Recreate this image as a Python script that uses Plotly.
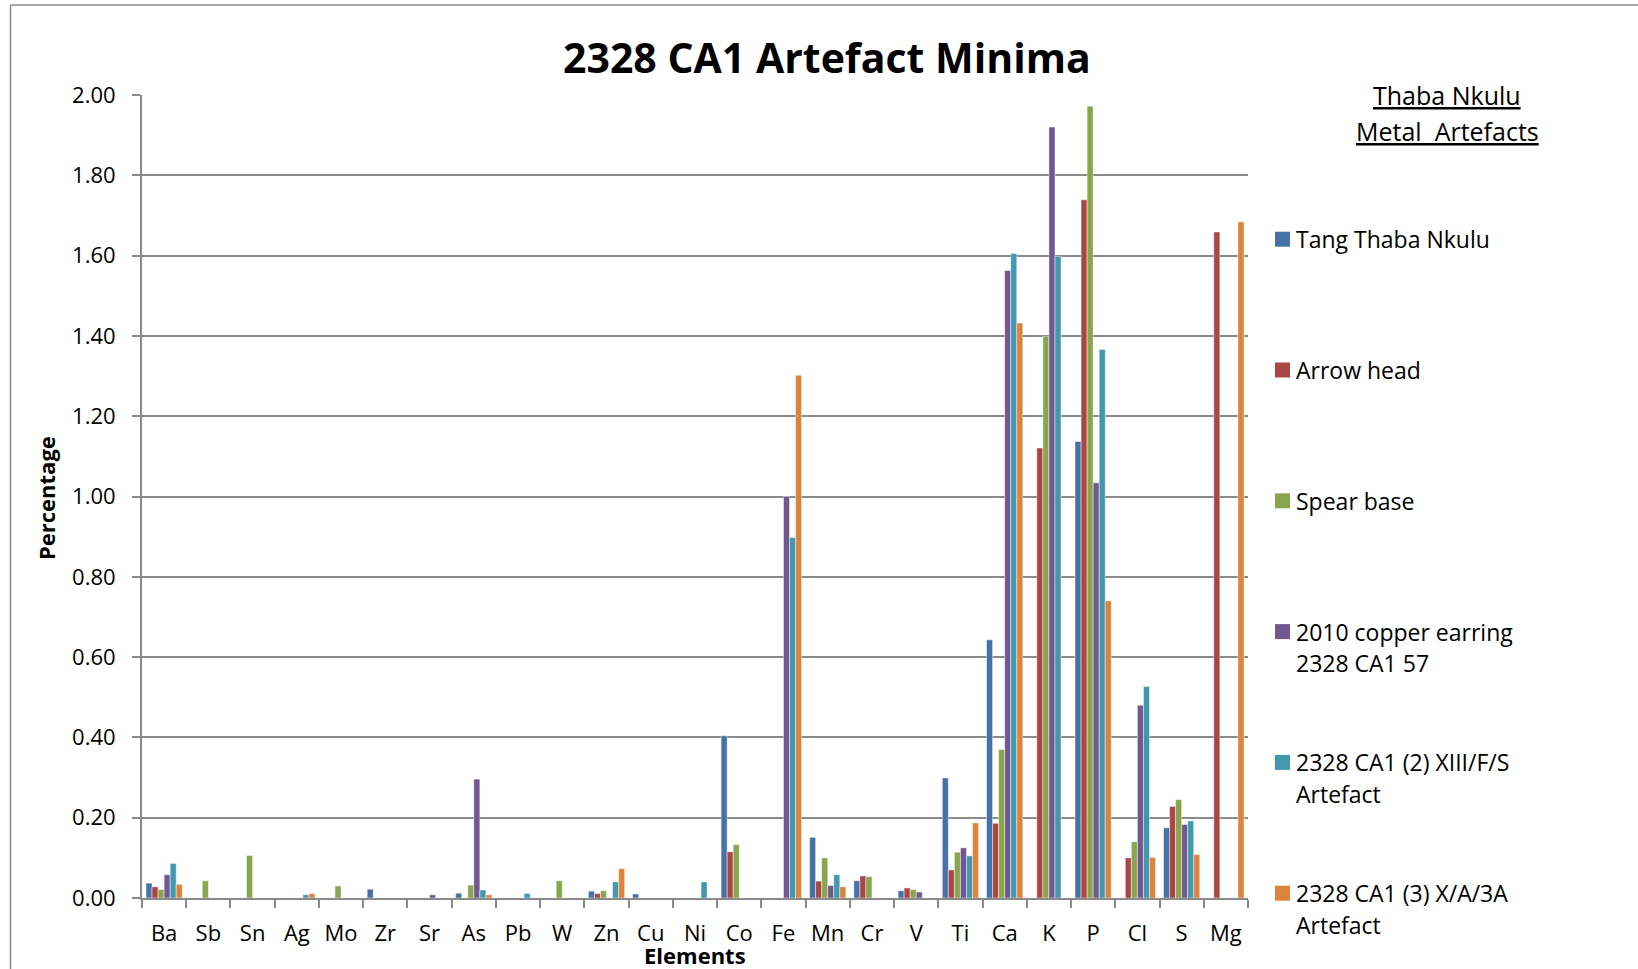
import plotly.graph_objects as go

# Elements analysed (x categories)
elements = ["Ba", "Sb", "Sn", "Ag", "Mo", "Zr", "Sr", "As", "Pb", "W", "Zn", "Cu", "Ni",
            "Co", "Fe", "Mn", "Cr", "V", "Ti", "Ca", "K", "P", "Cl", "S", "Mg"]

# Minimum percentages per artefact (None = not detected)
tang_thaba_nkulu = [0.037, None, None, None, None, 0.022, None, 0.012, None, None, 0.017, 0.010, None,
                    0.404, None, 0.151, 0.043, 0.018, 0.299, 0.643, None, 1.137, None, 0.175, None]
arrow_head = [0.028, None, None, None, None, None, None, None, None, None, 0.011, None, None,
              0.115, None, 0.042, 0.055, 0.025, 0.070, 0.186, 1.121, 1.739, 0.100, 0.228, 1.659]
spear_base = [0.021, 0.043, 0.106, None, 0.030, None, None, 0.032, None, 0.043, 0.018, None, None,
              0.133, None, 0.100, 0.053, 0.021, 0.114, 0.370, 1.399, 1.972, 0.140, 0.245, None]
copper_earring = [0.058, None, None, None, None, None, 0.008, 0.296, None, None, None, None, None,
                  None, 1.000, 0.031, None, 0.015, 0.125, 1.563, 1.920, 1.034, 0.480, 0.183, None]
ca1_xiii_f_s = [0.086, None, None, 0.008, None, None, None, 0.020, 0.011, None, 0.040, None, 0.040,
                None, 0.898, 0.058, None, None, 0.105, 1.605, 1.598, 1.366, 0.527, 0.192, None]
ca1_x_a_3a = [0.034, None, None, 0.011, None, None, None, 0.008, None, None, 0.073, None, None,
              None, 1.302, 0.028, None, None, 0.187, 1.432, None, 0.740, 0.101, 0.108, 1.684]

series_names = ["Tang Thaba Nkulu", "Arrow head", "Spear base",
                "2010 copper earring 2328 CA1 57",
                "2328 CA1 (2) XIII/F/S Artefact",
                "2328 CA1 (3) X/A/3A Artefact"]
legend_lines = [["Tang Thaba Nkulu"], ["Arrow head"], ["Spear base"],
                ["2010 copper earring", "2328 CA1 57"],
                ["2328 CA1 (2) XIII/F/S", "Artefact"],
                ["2328 CA1 (3) X/A/3A", "Artefact"]]
series_values = [tang_thaba_nkulu, arrow_head, spear_base,
                 copper_earring, ca1_xiii_f_s, ca1_x_a_3a]
colors = ["#4572A7", "#AA4643", "#89A54E", "#71588F", "#4198AF", "#DB843D"]

y_ticks = [0.0, 0.2, 0.4, 0.6, 0.8, 1.0, 1.2, 1.4, 1.6, 1.8, 2.0]

W, H = 1638, 969
L, R, T, B = 142, 390, 95, 71
PW, PH = W - L - R, H - T - B
FONT = "Open Sans"
GRID = "#8a8a8a"


def px(x):
    return (x - L) / PW


def py(y):
    return (H - B - y) / PH


fig = go.Figure()
for name, vals, col in zip(series_names, series_values, colors):
    fig.add_trace(go.Bar(
        x=elements, y=vals, name=name,
        marker=dict(color=col, line=dict(color="rgba(255,255,255,0.45)", width=1)),
        showlegend=False,
    ))

annotations = []
shapes = []

# chart title
annotations.append(dict(text="<b>2328 CA1 Artefact Minima</b>", x=px(827), y=py(57),
                        xref="paper", yref="paper", xanchor="center", yanchor="middle",
                        showarrow=False, font=dict(family=FONT, size=41, color="black")))
# axis titles
annotations.append(dict(text="<b>Elements</b>", x=px(695), y=py(955),
                        xref="paper", yref="paper", xanchor="center", yanchor="middle",
                        showarrow=False, font=dict(family=FONT, size=22, color="black")))
annotations.append(dict(text="<b>Percentage</b>", x=px(46), y=py(498), textangle=-90,
                        xref="paper", yref="paper", xanchor="center", yanchor="middle",
                        showarrow=False, font=dict(family=FONT, size=22, color="black")))

# legend heading
for line, yy in zip(["Thaba Nkulu", "Metal\u00a0\u00a0Artefacts"], [95, 130.6]):
    annotations.append(dict(text="<u>" + line + "</u>", x=px(1447), y=py(yy),
                            xref="paper", yref="paper", xanchor="center", yanchor="middle",
                            showarrow=False, font=dict(family=FONT, size=25, color="black")))

# legend entries
first_y, step, line_step = 239.2, 130.8, 31.5
for i, (lines, col) in enumerate(zip(legend_lines, colors)):
    yc = first_y + i * step
    shapes.append(dict(type="rect", xref="paper", yref="paper",
                       x0=px(1275), x1=px(1290), y0=py(yc - 7.5), y1=py(yc + 7.5),
                       fillcolor=col, line=dict(width=0)))
    for j, line in enumerate(lines):
        annotations.append(dict(text=line, x=px(1294), y=py(yc + j * line_step),
                                xref="paper", yref="paper", xanchor="left", yanchor="middle",
                                showarrow=False, font=dict(family=FONT, size=23, color="black")))

# outer chart border (left and top edges)
shapes.append(dict(type="line", xref="paper", yref="paper", x0=px(10.5), x1=px(10.5),
                   y0=py(5), y1=py(H), line=dict(color="#8c8c8c", width=1.5)))
shapes.append(dict(type="line", xref="paper", yref="paper", x0=px(10.5), x1=px(W),
                   y0=py(5), y1=py(5), line=dict(color="#8c8c8c", width=1.5)))

fig.update_layout(
    width=W, height=H,
    margin=dict(l=L, r=R, t=T, b=B, pad=0),
    paper_bgcolor="white", plot_bgcolor="white",
    barmode="group", bargap=0.18, bargroupgap=0,
    font=dict(family=FONT, color="black"),
    annotations=annotations, shapes=shapes,
    xaxis=dict(
        type="category", categoryorder="array", categoryarray=elements,
        showline=True, linecolor=GRID, linewidth=2,
        ticks="outside", ticklen=8, tickcolor=GRID, tickwidth=2,
        tickson="boundaries", showgrid=False,
        tickfont=dict(family=FONT, size=22, color="black"),
        ticklabelstandoff=15,
    ),
    yaxis=dict(
        range=[0, 2], tickvals=y_ticks, tickformat=".2f",
        showline=True, linecolor=GRID, linewidth=2,
        ticks="outside", ticklen=8, tickcolor=GRID, tickwidth=2,
        showgrid=True, gridcolor=GRID, gridwidth=2, zeroline=False,
        tickfont=dict(family=FONT, size=22, color="black"),
        ticklabelstandoff=12,
    ),
)

fig.write_html("out.html")
